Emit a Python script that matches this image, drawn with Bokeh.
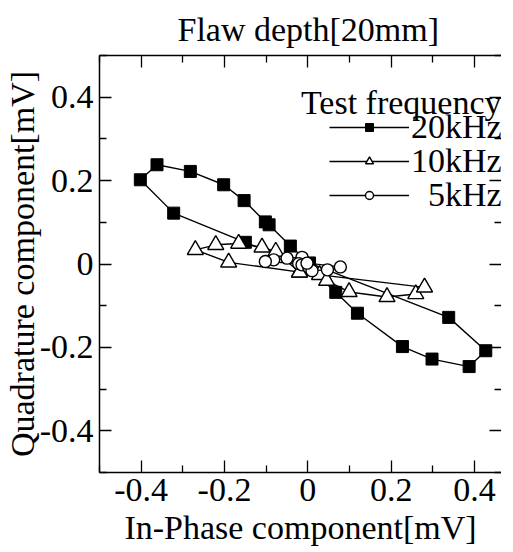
from bokeh.plotting import figure
from bokeh.models import (LinearAxis, FixedTicker, CustomJSTickFormatter, Range1d,
                          Label, Legend, LegendItem)
from bokeh.embed import file_html
from bokeh.resources import INLINE

# ---- data ----
x_20k = [0.004, -0.042, -0.093, -0.102, -0.153, -0.202, -0.282, -0.362, -0.402,
         -0.322, -0.150, 0.002, 0.067, 0.119, 0.227, 0.298, 0.387, 0.427, 0.338, 0.004]
y_20k = [0.002, 0.043, 0.094, 0.101, 0.152, 0.190, 0.222, 0.238, 0.202,
         0.122, 0.052, -0.008, -0.068, -0.118, -0.198, -0.228, -0.246, -0.208, -0.128, 0.002]

x_10k = [-0.020, -0.077, -0.110, -0.166, -0.221, -0.270, -0.190, 0.028, 0.045,
         0.099, 0.190, 0.259, 0.280, -0.020]
y_10k = [-0.020, 0.030, 0.040, 0.049, 0.046, 0.034, 0.004, -0.026, -0.040,
         -0.067, -0.079, -0.072, -0.056, -0.020]

x_5k = [-0.002, -0.014, -0.050, -0.082, -0.102, -0.022, -0.014, 0.002, 0.010,
        0.047, 0.078, -0.002]
y_5k = [0.002, 0.016, 0.014, 0.010, 0.006, 0.001, -0.002, -0.008, -0.016,
        -0.014, -0.007, 0.002]

series_labels = ["20kHz", "10kHz", "\u20075kHz"]
major_ticks = [-0.4, -0.2, 0.0, 0.2, 0.4]
minor_ticks = [-0.5, -0.3, -0.1, 0.1, 0.3, 0.5]

FONT = "Liberation Serif"
LW = 1.4
FRAME_W = 402
FRAME_H = 417
PX_PER_UNIT = 416.7

p = figure(frame_width=FRAME_W, frame_height=FRAME_H, output_backend="svg",
           toolbar_location=None,
           x_range=Range1d(-0.5, -0.5 + FRAME_W / PX_PER_UNIT), y_range=Range1d(-0.5, 0.5),
           min_border_left=93, min_border_right=0, min_border_top=55, min_border_bottom=72,
           x_axis_location=None, y_axis_location=None, title="Flaw depth[20mm]")
p.outline_line_color = None
p.grid.visible = False
p.background_fill_color = "white"
p.border_fill_color = "white"

p.title.text_font = FONT
p.title.text_font_size = "34px"
p.title.text_font_style = "normal"
p.title.text_color = "black"
p.title.align = "left"
p.title.offset = 78
p.title.standoff = 16

fmt = CustomJSTickFormatter(code="return tick == 0 ? '0' : tick.toFixed(1);")
blank = CustomJSTickFormatter(code="return '';")


def make_axis(show_labels, label=None, line=True, label_standoff=0):
    ax = LinearAxis(ticker=FixedTicker(ticks=major_ticks, minor_ticks=minor_ticks),
                    formatter=fmt if show_labels else blank)
    ax.major_tick_in = 12
    ax.major_tick_out = 0
    ax.minor_tick_in = 7
    ax.minor_tick_out = 0
    ax.major_tick_line_width = 1.3
    ax.minor_tick_line_width = 1.3
    ax.axis_line_width = 1.5
    ax.major_tick_line_color = "black"
    ax.minor_tick_line_color = "black"
    ax.axis_line_color = "black" if line else None
    if show_labels:
        ax.major_label_text_font = FONT
        ax.major_label_text_font_size = "34px"
        ax.major_label_text_color = "black"
        ax.major_label_standoff = 6
    else:
        ax.major_label_text_font_size = "1px"
        ax.major_label_standoff = 0
    if label:
        ax.axis_label = label
        ax.axis_label_text_font = FONT
        ax.axis_label_text_font_size = "34px"
        ax.axis_label_text_font_style = "normal"
        ax.axis_label_text_color = "black"
        ax.axis_label_standoff = label_standoff
    return ax


p.add_layout(make_axis(True, "In-Phase component[mV]", label_standoff=5), "below")
p.add_layout(make_axis(True, "Quadrature component[mV]", label_standoff=-4), "left")
p.add_layout(make_axis(False), "above")
p.add_layout(make_axis(False, line=False), "right")

# 20 kHz: filled squares
l20 = p.line(x_20k, y_20k, line_color="black", line_width=LW)
s20 = p.scatter(x_20k, y_20k, marker="square", size=12, fill_color="black",
                line_color="black", line_width=1)
# 10 kHz: open triangles
l10 = p.line(x_10k, y_10k, line_color="black", line_width=LW)
s10 = p.scatter(x_10k, y_10k, marker="triangle", size=16, fill_color="white",
                line_color="black", line_width=LW)
# 5 kHz: open circles
l5 = p.line(x_5k, y_5k, line_color="black", line_width=LW)
s5 = p.scatter(x_5k, y_5k, marker="circle", size=12, fill_color="white",
               line_color="black", line_width=LW)

# one legend box per entry so the row spacing can follow the reference
for lab, rends, vy in zip(series_labels, [[l20, s20], [l10, s10], [l5, s5]], [326, 292, 258]):
    lg = Legend(items=[LegendItem(label=lab, renderers=rends)], location=(230, vy))
    lg.label_text_font = FONT
    lg.label_text_font_size = "34px"
    lg.label_text_color = "black"
    lg.glyph_width = 80
    lg.glyph_height = 20
    lg.label_height = 20
    lg.label_standoff = 2
    lg.spacing = 0
    lg.padding = 0
    lg.margin = 0
    lg.background_fill_alpha = 0
    lg.border_line_color = None
    p.add_layout(lg)

p.add_layout(Label(x=-0.5 + FRAME_W / PX_PER_UNIT, y=0.388, x_offset=0,
                   text="Test frequency", text_align="right",
                   text_baseline="alphabetic", text_font=FONT, text_font_size="34px",
                   text_color="black"))

open("out.html", "w").write(file_html(p, INLINE))
